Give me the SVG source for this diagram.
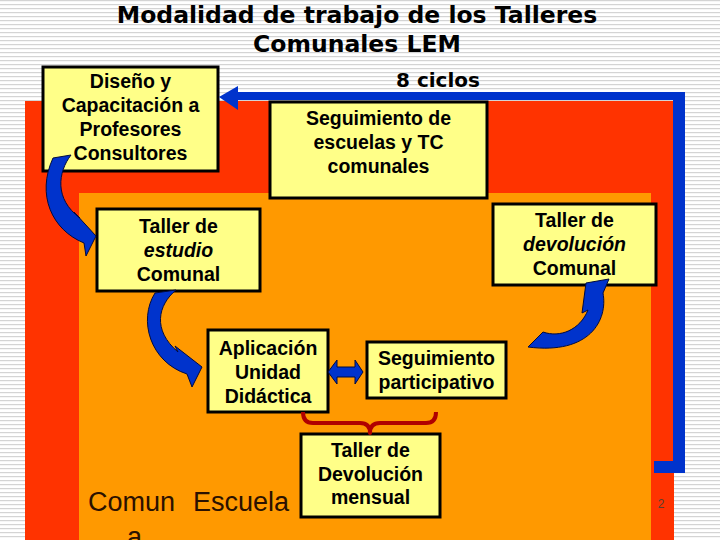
<svg xmlns="http://www.w3.org/2000/svg" width="720" height="540" viewBox="0 0 720 540">
<defs>
<pattern id="stripes" width="720" height="4" patternUnits="userSpaceOnUse">
<rect width="720" height="4" fill="#ffffff"/>
<rect width="720" height="1.2" fill="#d4d4d4"/>
</pattern>
</defs>
<style>
.box{fill:#FFFF88;stroke:#000;stroke-width:3}
.bt{font-family:"Liberation Sans",Arial,sans-serif;font-weight:bold;font-size:19.5px;text-anchor:middle;fill:#000}
.it{font-style:italic}
.title{font-family:"DejaVu Sans",Verdana,sans-serif;font-weight:bold;font-size:23.5px;text-anchor:middle;fill:#000}
.arr{fill:#0033CC;stroke:#000a40;stroke-width:1}
.loop{fill:#0033CC}
.brace{fill:none;stroke:#B00000;stroke-width:4;stroke-linejoin:round}
</style>
<rect width="720" height="540" fill="url(#stripes)"/>
<g id="background">
<rect x="25" y="101" width="649" height="439" fill="#FF3300"/>
<rect x="79" y="193" width="572" height="347" fill="#FF9900"/>
</g>
<g id="title">
<text class="title" x="357" y="23">Modalidad de trabajo de los Talleres</text>
<text class="title" x="357" y="52">Comunales LEM</text>
</g>
<g id="label-ciclos">
<text x="438" y="87" font-family="DejaVu Sans, Verdana, sans-serif" font-weight="bold" font-size="20" text-anchor="middle">8 ciclos</text>
</g>
<g id="node-diseno">
<rect class="box" x="43" y="67" width="175" height="104"/>
<text class="bt" x="130.5" y="88">Diseño y</text>
<text class="bt" x="130.5" y="112">Capacitación a</text>
<text class="bt" x="130.5" y="136">Profesores</text>
<text class="bt" x="130.5" y="160">Consultores</text>
</g>
<g id="node-seguimiento-escuelas">
<rect class="box" x="270" y="102" width="217" height="96"/>
<text class="bt" x="378.5" y="125">Seguimiento de</text>
<text class="bt" x="378.5" y="149">escuelas y TC</text>
<text class="bt" x="378.5" y="173">comunales</text>
</g>
<g id="node-taller-estudio">
<rect class="box" x="97" y="209" width="163" height="82"/>
<text class="bt" x="178.5" y="233">Taller de</text>
<text class="bt it" x="178.5" y="257">estudio</text>
<text class="bt" x="178.5" y="281">Comunal</text>
</g>
<g id="node-taller-devolucion">
<rect class="box" x="493" y="204" width="163" height="81"/>
<text class="bt" x="574.5" y="227">Taller de</text>
<text class="bt it" x="574.5" y="251">devolución</text>
<text class="bt" x="574.5" y="275">Comunal</text>
</g>
<g id="node-aplicacion">
<rect class="box" x="208" y="330" width="120" height="82"/>
<text class="bt" x="268" y="355">Aplicación</text>
<text class="bt" x="268" y="379">Unidad</text>
<text class="bt" x="268" y="403">Didáctica</text>
</g>
<g id="node-seguimiento-participativo">
<rect class="box" x="367" y="342" width="139" height="56"/>
<text class="bt" x="436.5" y="365">Seguimiento</text>
<text class="bt" x="436.5" y="389">participativo</text>
</g>
<g id="node-devolucion-mensual">
<rect class="box" x="301" y="434" width="139" height="83"/>
<text class="bt" x="370.5" y="457">Taller de</text>
<text class="bt" x="370.5" y="481">Devolución</text>
<text class="bt" x="370.5" y="504">mensual</text>
</g>
<g id="connectors">
<polygon class="loop" points="238,92 685,92 685,473 654,473 654,461 673,461 673,100 238,100"/>
<polygon class="loop" points="219,97 238,86 238,110"/>
<path class="arr" d="M53,158 L71,155 C58,172 54,199 80,218 L74,212 L96,236 L86,256 L84,243 C52,230 36,195 53,158 Z"/>
<path class="arr" d="M155,293 L176,290 C158,305 152,330 178,352 L175,346 L202,367 L192,387 L187,374 C150,362 138,320 155,293 Z"/>
<path class="arr" d="M528,347 L543,332 C560,338 580,330 588,310 L582,313 L586,283 L609,279 L603,293 C608,320 590,355 528,347 Z"/>
<polygon class="arr" points="328,372 337,360 337,367 355,367 355,360 363,372 355,384 355,377 337,377 337,384"/>
<path class="brace" d="M303,412 Q303,423 313,423 L360,423 Q370,423 370,433 Q370,423 380,423 L426,423 Q436,423 436,412"/>
</g>
<g id="footer">
<text font-family="Liberation Sans, Arial, sans-serif" font-size="27" fill="#2b1100"><tspan x="88" y="511">Comun</tspan><tspan x="193" y="511">Escuela</tspan><tspan x="127" y="546">a</tspan></text>
<text x="661" y="508" font-family="Liberation Sans, Arial, sans-serif" font-size="12" fill="#5a4030" text-anchor="middle">2</text>
</g>
</svg>
